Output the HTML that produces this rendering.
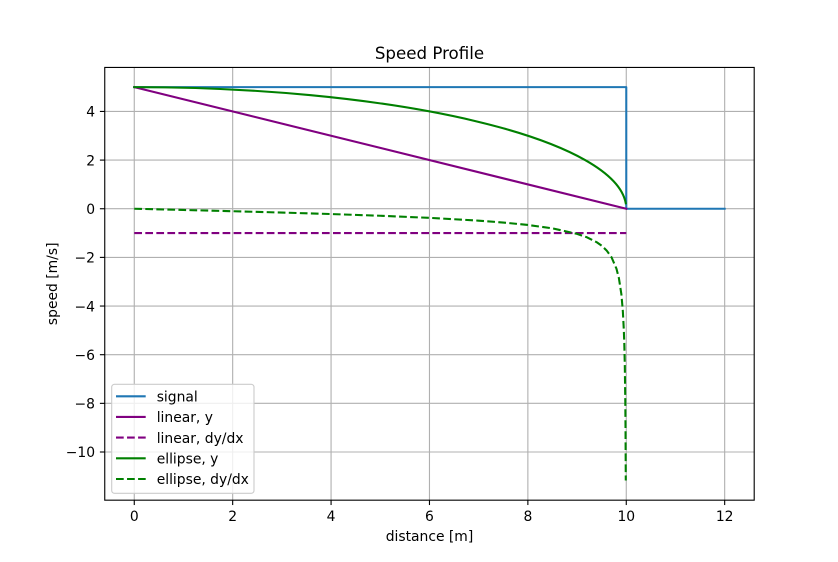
<!DOCTYPE html>
<html><head><meta charset="utf-8"><style>
html,body{margin:0;padding:0;background:#fff;}
svg{display:block;}
text{font-family:"DejaVu Sans","Liberation Sans",sans-serif;fill:#000;}
</style></head><body>
<svg width="838" height="562" viewBox="0 0 838 562" xmlns="http://www.w3.org/2000/svg">
<rect x="0" y="0" width="838" height="562" fill="#fff"/>
<!-- grid -->
<g stroke="#b0b0b0" stroke-width="1.11" fill="none">
<line x1="134.27" y1="67.44" x2="134.27" y2="500.18"/>
<line x1="232.67" y1="67.44" x2="232.67" y2="500.18"/>
<line x1="331.07" y1="67.44" x2="331.07" y2="500.18"/>
<line x1="429.47" y1="67.44" x2="429.47" y2="500.18"/>
<line x1="527.87" y1="67.44" x2="527.87" y2="500.18"/>
<line x1="626.27" y1="67.44" x2="626.27" y2="500.18"/>
<line x1="724.67" y1="67.44" x2="724.67" y2="500.18"/>
<line x1="104.75" y1="111.44" x2="754.2" y2="111.44"/>
<line x1="104.75" y1="160.09" x2="754.2" y2="160.09"/>
<line x1="104.75" y1="208.74" x2="754.2" y2="208.74"/>
<line x1="104.75" y1="257.39" x2="754.2" y2="257.39"/>
<line x1="104.75" y1="306.04" x2="754.2" y2="306.04"/>
<line x1="104.75" y1="354.70" x2="754.2" y2="354.70"/>
<line x1="104.75" y1="403.35" x2="754.2" y2="403.35"/>
<line x1="104.75" y1="452.00" x2="754.2" y2="452.00"/>
</g>
<!-- series -->
<g fill="none" stroke-width="2.08" stroke-linejoin="round" stroke-linecap="butt">
<polyline stroke="#1f77b4" stroke-linecap="square" points="134.27,87.11 626.27,87.11 626.27,208.74 724.67,208.74"/>
<line stroke="#800080" x1="134.27" y1="87.11" x2="626.27" y2="208.74" stroke-linecap="square"/>
<line stroke="#800080" x1="134.27" y1="233.07" x2="626.27" y2="233.07" stroke-dasharray="7.71,3.33"/>
<path stroke="#008000" stroke-linecap="square" d="M134.27,87.11 A492.01,121.63 0 0 1 625.78,203.30"/>
<polyline stroke="#008000" stroke-dasharray="7.71,3.33" points="134.27,208.74 183.47,209.96 232.67,211.22 281.87,212.56 331.07,214.05 380.28,215.76 429.48,217.86 478.68,220.66 503.28,222.53 527.88,224.96 552.48,228.37 577.08,233.85 586.92,237.29 596.76,242.25 601.68,245.74 606.60,250.44 611.52,257.27 616.44,268.64 618.90,278.17 621.36,294.10 622.83,310.99 623.82,329.91 624.31,344.32 624.80,365.41 625.29,400.76 625.54,430.56 625.78,480.52"/>
</g>
<!-- spines -->
<rect x="104.75" y="67.44" width="649.45" height="432.74" fill="none" stroke="#000" stroke-width="1.11"/>
<!-- ticks -->
<g stroke="#000" stroke-width="1.11">
<line x1="134.27" y1="500.18" x2="134.27" y2="505.04"/>
<line x1="232.67" y1="500.18" x2="232.67" y2="505.04"/>
<line x1="331.07" y1="500.18" x2="331.07" y2="505.04"/>
<line x1="429.47" y1="500.18" x2="429.47" y2="505.04"/>
<line x1="527.87" y1="500.18" x2="527.87" y2="505.04"/>
<line x1="626.27" y1="500.18" x2="626.27" y2="505.04"/>
<line x1="724.67" y1="500.18" x2="724.67" y2="505.04"/>
<line x1="99.89" y1="111.44" x2="104.75" y2="111.44"/>
<line x1="99.89" y1="160.09" x2="104.75" y2="160.09"/>
<line x1="99.89" y1="208.74" x2="104.75" y2="208.74"/>
<line x1="99.89" y1="257.39" x2="104.75" y2="257.39"/>
<line x1="99.89" y1="306.04" x2="104.75" y2="306.04"/>
<line x1="99.89" y1="354.70" x2="104.75" y2="354.70"/>
<line x1="99.89" y1="403.35" x2="104.75" y2="403.35"/>
<line x1="99.89" y1="452.00" x2="104.75" y2="452.00"/>
</g>
<g font-size="13.89" text-anchor="middle">
<text x="134.27" y="520.8">0</text>
<text x="232.67" y="520.8">2</text>
<text x="331.07" y="520.8">4</text>
<text x="429.47" y="520.8">6</text>
<text x="527.87" y="520.8">8</text>
<text x="626.27" y="520.8">10</text>
<text x="724.67" y="520.8">12</text>
</g>
<g font-size="13.89" text-anchor="end">
<text x="95.03" y="116.7">4</text>
<text x="95.03" y="165.3">2</text>
<text x="95.03" y="214.0">0</text>
<text x="95.03" y="262.6">−2</text>
<text x="95.03" y="311.3">−4</text>
<text x="95.03" y="359.9">−6</text>
<text x="95.03" y="408.6">−8</text>
<text x="95.03" y="457.2">−10</text>
</g>
<text x="429.47" y="541" font-size="13.89" text-anchor="middle">distance [m]</text>
<text transform="translate(57,283.8) rotate(-90)" font-size="13.89" text-anchor="middle">speed [m/s]</text>
<text x="429.47" y="59.1" font-size="16.67" text-anchor="middle">Speed Profile</text>
<!-- legend -->
<rect x="111.7" y="384.3" width="142.3" height="109" rx="2.8" ry="2.8" fill="#fff" fill-opacity="0.8" stroke="#cccccc" stroke-width="1.11"/>
<g fill="none" stroke-width="2.08">
<line x1="116" y1="396.3" x2="145.7" y2="396.3" stroke="#1f77b4"/>
<line x1="116" y1="416.9" x2="145.7" y2="416.9" stroke="#800080"/>
<line x1="116" y1="437.6" x2="145.7" y2="437.6" stroke="#800080" stroke-dasharray="7.71,3.33"/>
<line x1="116" y1="458.3" x2="145.7" y2="458.3" stroke="#008000"/>
<line x1="116" y1="479.0" x2="145.7" y2="479.0" stroke="#008000" stroke-dasharray="7.71,3.33"/>
</g>
<g font-size="13.89">
<text x="156.7" y="401.5">signal</text>
<text x="156.7" y="422.1">linear, y</text>
<text x="156.7" y="442.8">linear, dy/dx</text>
<text x="156.7" y="463.5">ellipse, y</text>
<text x="156.7" y="484.2">ellipse, dy/dx</text>
</g>
</svg>
</body></html>
